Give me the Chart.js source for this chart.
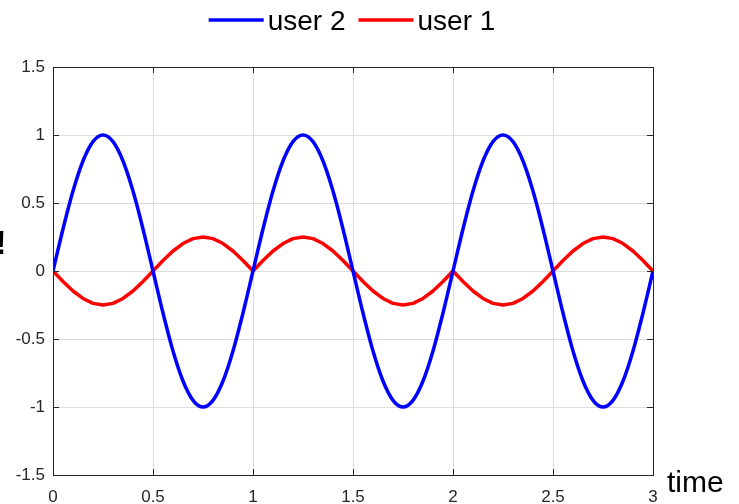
<!DOCTYPE html>
<html>
<head>
<meta charset="utf-8">
<script src="https://cdn.jsdelivr.net/npm/chart.js@4"></script>
<style>
  html, body { margin: 0; padding: 0; background: #fff; }
  #wrap { width: 739px; height: 504px; }
</style>
</head>
<body>
<div id="wrap"><canvas id="myChart" width="739" height="504"></canvas></div>
<script>
const time = [
  0, 0.05, 0.1, 0.15, 0.2, 0.25, 0.3, 0.35, 0.4, 0.45,
  0.5, 0.55, 0.6, 0.65, 0.7, 0.75, 0.8, 0.85, 0.9, 0.95,
  1, 1.05, 1.1, 1.15, 1.2, 1.25, 1.3, 1.35, 1.4, 1.45,
  1.5, 1.55, 1.6, 1.65, 1.7, 1.75, 1.8, 1.85, 1.9, 1.95,
  2, 2.05, 2.1, 2.15, 2.2, 2.25, 2.3, 2.35, 2.4, 2.45,
  2.5, 2.55, 2.6, 2.65, 2.7, 2.75, 2.8, 2.85, 2.9, 2.95,
  3
];

const user2 = [
  0, 0.309, 0.588, 0.809, 0.951, 1, 0.951, 0.809, 0.588, 0.309,
  0, -0.309, -0.588, -0.809, -0.951, -1, -0.951, -0.809, -0.588, -0.309,
  0, 0.309, 0.588, 0.809, 0.951, 1, 0.951, 0.809, 0.588, 0.309,
  0, -0.309, -0.588, -0.809, -0.951, -1, -0.951, -0.809, -0.588, -0.309,
  0, 0.309, 0.588, 0.809, 0.951, 1, 0.951, 0.809, 0.588, 0.309,
  0, -0.309, -0.588, -0.809, -0.951, -1, -0.951, -0.809, -0.588, -0.309,
  0
];

const user1 = [
  0, -0.077, -0.147, -0.202, -0.238, -0.25, -0.238, -0.202, -0.147, -0.077,
  0, 0.077, 0.147, 0.202, 0.238, 0.25, 0.238, 0.202, 0.147, 0.077,
  0, 0.077, 0.147, 0.202, 0.238, 0.25, 0.238, 0.202, 0.147, 0.077,
  0, -0.077, -0.147, -0.202, -0.238, -0.25, -0.238, -0.202, -0.147, -0.077,
  0, -0.077, -0.147, -0.202, -0.238, -0.25, -0.238, -0.202, -0.147, -0.077,
  0, 0.077, 0.147, 0.202, 0.238, 0.25, 0.238, 0.202, 0.147, 0.077,
  0
];

const xTicks = [0, 0.5, 1, 1.5, 2, 2.5, 3];
const yTicks = [-1.5, -1, -0.5, 0, 0.5, 1, 1.5];

const FONT = "'Liberation Sans', Arial, sans-serif";
const INK = '#262626';

const toPoints = ys => ys.map((y, i) => ({x: time[i], y: y}));

// box round the plot, inward ticks, legend, axis label
const framePlugin = {
  id: 'frame',
  afterDraw(chart) {
    const ctx = chart.ctx;
    const a = chart.chartArea;
    const xs = chart.scales.x, ys = chart.scales.y;
    ctx.save();
    ctx.strokeStyle = INK;
    ctx.lineWidth = 1;
    ctx.strokeRect(a.left + 0.5, a.top + 0.5, a.right - a.left, a.bottom - a.top);
    ctx.beginPath();
    xTicks.forEach(v => {
      const px = Math.round(xs.getPixelForValue(v)) + 0.5;
      ctx.moveTo(px, a.bottom); ctx.lineTo(px, a.bottom - 6);
      ctx.moveTo(px, a.top); ctx.lineTo(px, a.top + 6);
    });
    yTicks.forEach(v => {
      const py = Math.round(ys.getPixelForValue(v)) + 0.5;
      ctx.moveTo(a.left, py); ctx.lineTo(a.left + 6, py);
      ctx.moveTo(a.right, py); ctx.lineTo(a.right - 6, py);
    });
    ctx.stroke();

    // legend
    ctx.font = '28px ' + FONT;
    ctx.textBaseline = 'middle';
    ctx.textAlign = 'left';
    const sets = chart.data.datasets;
    const lineW = 55, gap = 4, itemGap = 13;
    let total = 0;
    sets.forEach((d, i) => {
      total += lineW + gap + ctx.measureText(d.label).width + (i < sets.length - 1 ? itemGap : 0);
    });
    let x = (a.left + a.right) / 2 - total / 2 - 1;
    const ly = 20;
    sets.forEach(d => {
      ctx.strokeStyle = d.borderColor;
      ctx.lineWidth = 3.5;
      ctx.beginPath();
      ctx.moveTo(x, ly); ctx.lineTo(x + lineW, ly);
      ctx.stroke();
      x += lineW + gap;
      ctx.fillStyle = '#000';
      ctx.fillText(d.label, x, ly + 2);
      x += ctx.measureText(d.label).width + itemGap;
    });

    // x axis label at the right end
    ctx.font = '30px ' + FONT;
    ctx.textBaseline = 'alphabetic';
    ctx.fillStyle = '#000';
    ctx.fillText('time', a.right + 14, a.bottom + 17);

    // clipped y label remnant at far left
    ctx.font = 'bold 34px ' + FONT;
    ctx.textAlign = 'center';
    ctx.fillText('!', 1, 254);
    ctx.restore();
  }
};

new Chart(document.getElementById('myChart').getContext('2d'), {
  type: 'line',
  data: {
    datasets: [
      {
        label: 'user 2',
        data: toPoints(user2),
        borderColor: '#0000ff',
        borderWidth: 3.5,
        pointRadius: 0,
        fill: false,
        cubicInterpolationMode: 'monotone'
      },
      {
        label: 'user 1',
        data: toPoints(user1),
        borderColor: '#ff0000',
        borderWidth: 3.5,
        borderJoinStyle: 'round',
        pointRadius: 0,
        fill: false,
        tension: 0
      }
    ]
  },
  options: {
    responsive: false,
    animation: false,
    layout: { padding: { top: 67, right: 86, left: 0, bottom: 0 } },
    plugins: {
      legend: { display: false },
      tooltip: { enabled: false }
    },
    scales: {
      x: {
        type: 'linear',
        min: 0,
        max: 3,
        afterBuildTicks: s => { s.ticks = xTicks.map(v => ({value: v})); },
        afterFit: s => { s.height = 29; },
        grid: { color: '#dcdcdc', drawTicks: false },
        border: { display: false },
        ticks: {
          color: INK,
          font: { family: FONT, size: 17 },
          padding: 12,
          maxRotation: 0,
          callback: v => String(v)
        }
      },
      y: {
        min: -1.5,
        max: 1.5,
        afterBuildTicks: s => { s.ticks = yTicks.map(v => ({value: v})); },
        afterFit: s => { s.width = 53; },
        grid: { color: '#dcdcdc', drawTicks: false },
        border: { display: false },
        ticks: {
          color: INK,
          font: { family: FONT, size: 17 },
          padding: 8,
          callback: v => String(v)
        }
      }
    }
  },
  plugins: [framePlugin]
});
</script>
</body>
</html>
